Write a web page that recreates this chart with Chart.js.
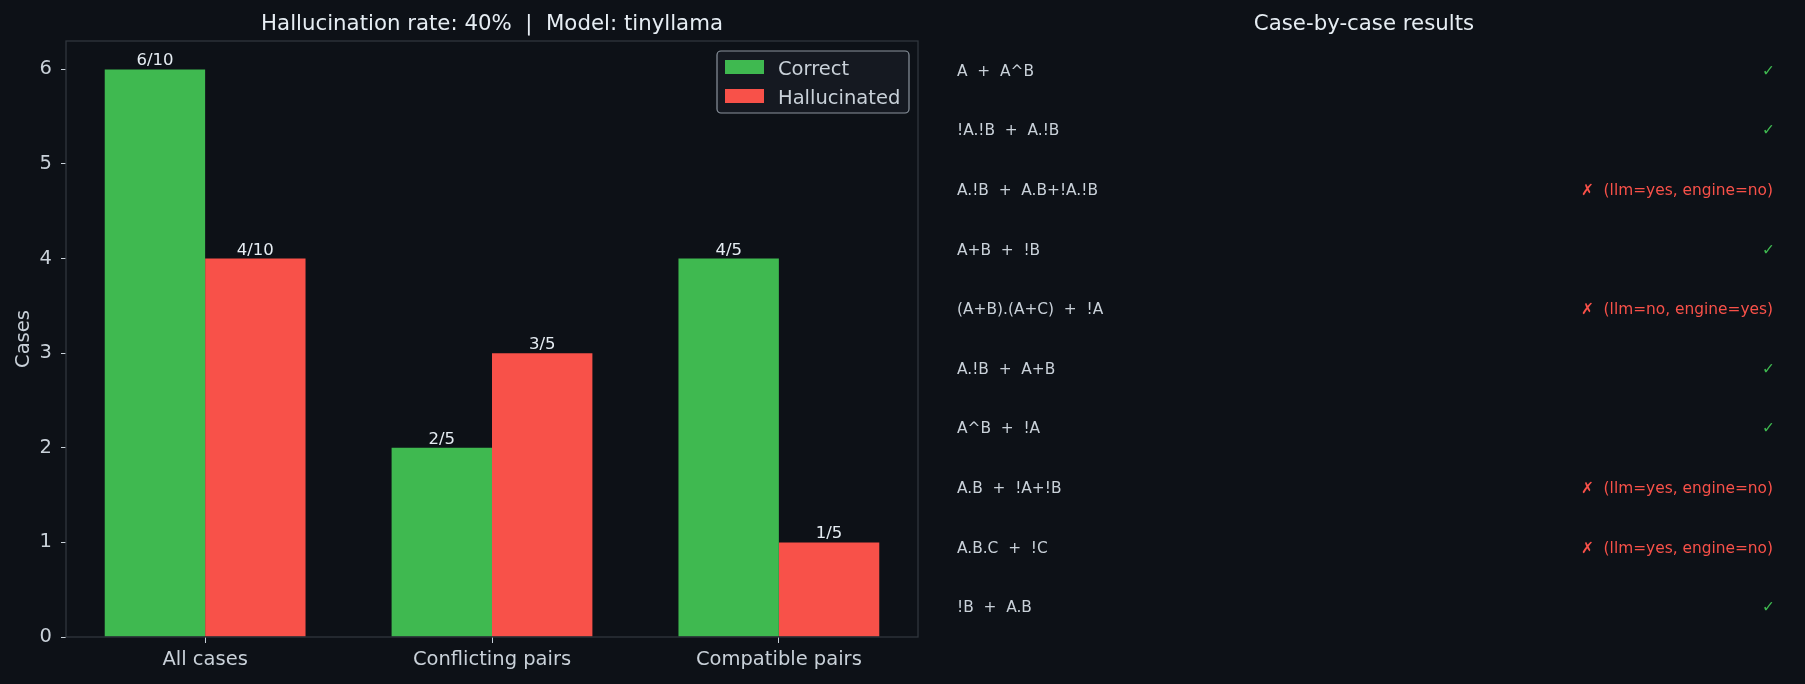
<!DOCTYPE html>
<html>
<head>
<meta charset="utf-8">
<title>Hallucination rate</title>
<script src="https://cdn.jsdelivr.net/npm/chart.js@4.4.1/dist/chart.umd.min.js"></script>
<style>
  html, body { margin: 0; padding: 0; background: #0d1117; }
  #wrap { position: relative; width: 1805px; height: 684px; overflow: hidden; }
  #barsBox { position: absolute; left: 0; top: 0; }
  #casesBox { position: absolute; left: 940px; top: 0; }
</style>
</head>
<body>
<div id="wrap">
  <div id="barsBox"><canvas id="barsChart" width="984" height="684"></canvas></div>
  <div id="casesBox"><canvas id="casesChart" width="865" height="684"></canvas></div>
</div>
<script>
// Data
const categories = ['All cases', 'Conflicting pairs', 'Compatible pairs'];
const correct = [6, 2, 4];
const hallucinated = [4, 3, 1];
const totals = [10, 5, 5];
const yTicks = [0, 1, 2, 3, 4, 5, 6];

const caseExprs = [
  'A  +  A^B',
  '!A.!B  +  A.!B',
  'A.!B  +  A.B+!A.!B',
  'A+B  +  !B',
  '(A+B).(A+C)  +  !A',
  'A.!B  +  A+B',
  'A^B  +  !A',
  'A.B  +  !A+!B',
  'A.B.C  +  !C',
  '!B  +  A.B'
];
const caseOk = [true, true, false, true, false, true, true, false, false, true];
const caseLlm = ['yes', 'yes', 'yes', 'no', 'no', 'no', 'no', 'yes', 'yes', 'no'];
const caseEngine = ['yes', 'yes', 'no', 'no', 'yes', 'no', 'no', 'no', 'no', 'no'];

const FONT = '"DejaVu Sans", sans-serif';
const TEXT = '#e6edf3';
const TICK = '#c9d1d9';
const SPINE = '#30363d';
const GREEN = '#3fb950';
const RED = '#f85149';
const TICK_SIZE = 19.5;

// Title centred over the plot area
const panelTitle = {
  id: 'panelTitle',
  afterDraw(chart, args, opts) {
    const { ctx, chartArea } = chart;
    ctx.save();
    ctx.font = `${opts.size}px ${FONT}`;
    ctx.fillStyle = TEXT;
    ctx.textAlign = 'center';
    ctx.textBaseline = 'alphabetic';
    ctx.fillText(opts.text, (chartArea.left + chartArea.right) / 2, opts.y);
    ctx.restore();
  }
};

// Frame around the axes (matplotlib spines)
const spines = {
  id: 'spines',
  afterDraw(chart) {
    const { ctx, chartArea: a } = chart;
    ctx.save();
    ctx.strokeStyle = SPINE;
    ctx.lineWidth = 1.3;
    ctx.strokeRect(a.left, a.top, a.right - a.left, a.bottom - a.top);
    ctx.restore();
  }
};

// "6/10" style labels on top of the bars
const barLabels = {
  id: 'barLabels',
  afterDatasetsDraw(chart) {
    const { ctx } = chart;
    ctx.save();
    ctx.font = `16.5px ${FONT}`;
    ctx.fillStyle = TEXT;
    ctx.textAlign = 'center';
    ctx.textBaseline = 'alphabetic';
    chart.data.datasets.forEach((ds, di) => {
      chart.getDatasetMeta(di).data.forEach((bar, i) => {
        ctx.fillText(ds.data[i].y + '/' + totals[i], bar.x, bar.y - 4);
      });
    });
    ctx.restore();
  }
};

// Legend box in the upper right corner
const boxLegend = {
  id: 'boxLegend',
  afterDraw(chart) {
    const { ctx, chartArea: a } = chart;
    const w = 192, h = 62;
    const x = a.right - 9 - w, y = a.top + 10;
    ctx.save();
    ctx.beginPath();
    ctx.roundRect(x, y, w, h, 4);
    ctx.fillStyle = 'rgba(22,27,34,0.9)';
    ctx.fill();
    ctx.strokeStyle = '#8b949e';
    ctx.lineWidth = 1.2;
    ctx.stroke();
    ctx.font = `${TICK_SIZE}px ${FONT}`;
    ctx.textBaseline = 'alphabetic';
    ctx.textAlign = 'left';
    chart.data.datasets.forEach((ds, i) => {
      const rowY = y + 9 + i * 29;
      ctx.fillStyle = ds.backgroundColor;
      ctx.fillRect(x + 8, rowY, 39, 14);
      ctx.fillStyle = TICK;
      ctx.fillText(ds.label, x + 61, rowY + 14.5);
    });
    ctx.restore();
  }
};

// Bar chart
new Chart(document.getElementById('barsChart').getContext('2d'), {
  type: 'bar',
  data: {
    datasets: [
      {
        label: 'Correct',
        data: correct.map((v, i) => ({ x: i, y: v })),
        backgroundColor: GREEN
      },
      {
        label: 'Hallucinated',
        data: hallucinated.map((v, i) => ({ x: i, y: v })),
        backgroundColor: RED
      }
    ]
  },
  options: {
    responsive: false,
    animation: false,
    barPercentage: 1,
    categoryPercentage: 0.7,
    layout: { padding: { top: 41, right: 66, bottom: 0, left: 0 } },
    plugins: {
      legend: { display: false },
      tooltip: { enabled: false },
      panelTitle: { text: 'Hallucination rate: 40%  |  Model: tinyllama', size: 21.3, y: 29.5 }
    },
    scales: {
      x: {
        type: 'linear',
        min: -0.485,
        max: 2.485,
        offset: false,
        border: { display: false },
        grid: { drawOnChartArea: false, tickLength: 6, tickColor: TICK, offset: false },
        ticks: {
          stepSize: 1,
          includeBounds: false,
          color: TICK,
          font: { family: FONT, size: TICK_SIZE },
          padding: 5,
          callback: v => categories[v]
        },
        afterFit: s => { s.height = 47; }
      },
      y: {
        min: 0,
        max: 6.3,
        border: { display: false },
        grid: { drawOnChartArea: false, tickLength: 5, tickColor: TICK },
        ticks: {
          stepSize: 1,
          includeBounds: false,
          color: TICK,
          font: { family: FONT, size: TICK_SIZE },
          padding: 9,
          callback: v => yTicks.includes(v) ? String(v) : ''
        },
        title: {
          display: true,
          text: 'Cases',
          color: TICK,
          font: { family: FONT, size: TICK_SIZE },
          padding: { top: 12, bottom: 0 }
        },
        afterFit: s => { s.width = 66; }
      }
    }
  },
  plugins: [panelTitle, spines, barLabels, boxLegend]
});

// Case-by-case text rows, placed on a hidden category axis
const caseRows = {
  id: 'caseRows',
  afterDraw(chart) {
    const { ctx, chartArea: a, scales } = chart;
    ctx.save();
    ctx.font = `15.4px ${FONT}`;
    ctx.textBaseline = 'alphabetic';
    caseExprs.forEach((expr, i) => {
      const y = scales.y.getPixelForValue(i) + 5;
      ctx.textAlign = 'left';
      ctx.fillStyle = TICK;
      ctx.fillText(expr, a.left + 13, y);
      ctx.textAlign = 'right';
      if (caseOk[i]) {
        ctx.fillStyle = GREEN;
        ctx.fillText('\u2713', a.right - 9, y);
      } else {
        ctx.fillStyle = RED;
        ctx.fillText('\u2717  (llm=' + caseLlm[i] + ', engine=' + caseEngine[i] + ')', a.right - 11, y);
      }
    });
    ctx.restore();
  }
};

new Chart(document.getElementById('casesChart').getContext('2d'), {
  type: 'bar',
  data: { labels: caseExprs, datasets: [] },
  options: {
    responsive: false,
    animation: false,
    layout: { padding: { top: 41, right: 21, bottom: 47, left: 4 } },
    plugins: {
      legend: { display: false },
      tooltip: { enabled: false },
      panelTitle: { text: 'Case-by-case results', size: 21.3, y: 29.5 }
    },
    scales: {
      x: { type: 'linear', min: 0, max: 1, display: false },
      y: { type: 'category', offset: true, display: false }
    }
  },
  plugins: [panelTitle, caseRows]
});
</script>
</body>
</html>
